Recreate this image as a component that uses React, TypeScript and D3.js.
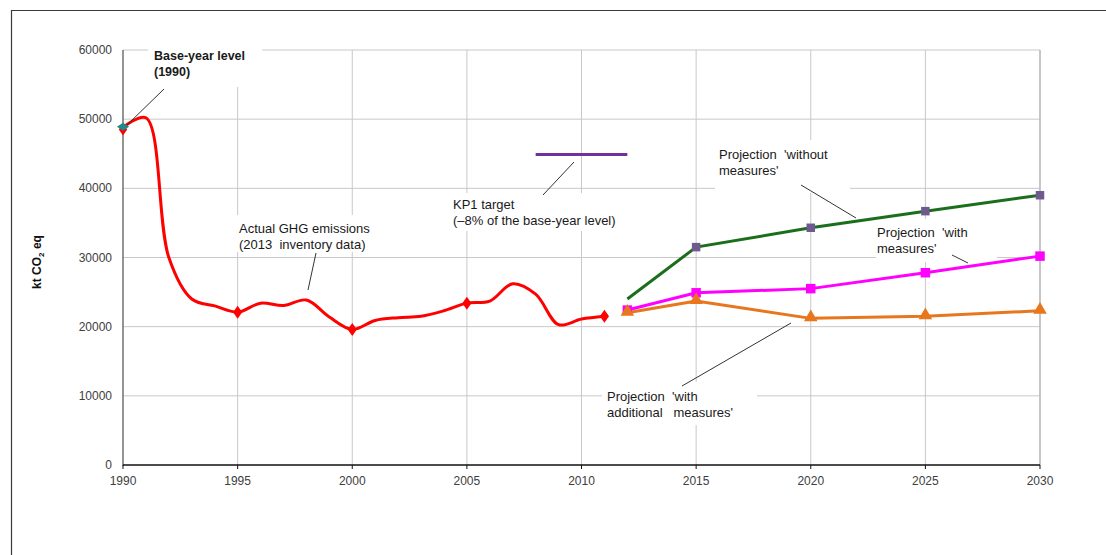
import React from "react";
import * as d3 from "d3";

// ---------- data ----------
const xTicks = [1990, 1995, 2000, 2005, 2010, 2015, 2020, 2025, 2030];
const yTicks = [0, 10000, 20000, 30000, 40000, 50000, 60000];

const actualYears = [1990, 1991, 1992, 1993, 1994, 1995, 1996, 1997, 1998, 1999, 2000, 2001, 2002, 2003, 2004, 2005, 2006, 2007, 2008, 2009, 2010, 2011];
const actualValues = [48800, 50200, 30000, 24000, 23000, 22100, 23400, 23050, 23850, 21400, 19600, 20900, 21300, 21500, 22300, 23400, 23700, 26200, 24700, 20300, 21100, 21500];
const actualMarkerYears = [1995, 2000, 2005, 2011];

const baseYears = [1990];
const baseValues = [48900];

const kpYears = [2008, 2012];
const kpValues = [44900, 44900];

const projYears = [2012, 2015, 2020, 2025, 2030];
const withoutMeasures = [24000, 31500, 34300, 36700, 39000];
const withMeasures = [22400, 24900, 25500, 27800, 30200];
const additionalMeasures = [22000, 23700, 21200, 21500, 22300];
const withoutMarkerYears = [2015, 2020, 2025, 2030];

const labelBase = ["Base-year level", "(1990)"];
const labelActual = ["Actual GHG emissions", "(2013  inventory data)"];
const labelKP = ["KP1 target", "(–8% of the base-year level)"];
const labelWithout = ["Projection  'without", "measures'"];
const labelWith = ["Projection  'with", "measures'"];
const labelAdd = ["Projection  'with", "additional   measures'"];

// ---------- layout ----------
const W = 1106;
const H = 555;
const X0 = 123, X1 = 1040, Y0 = 465, Y1 = 50;
const FONT = "'Liberation Sans', Arial, sans-serif";

const x = d3.scaleLinear().domain([1990, 2030]).range([X0, X1]);
const y = d3.scaleLinear().domain([0, 60000]).range([Y0, Y1]);

type Pt = [number, number];
const zip = (xs: number[], ys: number[]): Pt[] => xs.map((v, i) => [v, ys[i]]);

const smooth = d3.line<Pt>().x((d) => x(d[0])).y((d) => y(d[1])).curve(d3.curveCatmullRom.alpha(0.5));
const straight = d3.line<Pt>().x((d) => x(d[0])).y((d) => y(d[1]));

const sq = d3.symbol().type(d3.symbolSquare);
const tri = d3.symbol().type(d3.symbolTriangle);
const dia = d3.symbol().type(d3.symbolDiamond);

function Label({ lines, px, py, bold, lh = 16 }: { lines: string[]; px: number; py: number; bold?: boolean; lh?: number }) {
  return (
    <text x={px} y={py} fontFamily={FONT} fontSize={bold ? 12.5 : 13} fontWeight={bold ? "bold" : "normal"} fill="#1a1a1a" style={{ whiteSpace: "pre" }}>
      {lines.map((l, i) => (
        <tspan key={i} x={px} dy={i === 0 ? 0 : lh}>
          {l}
        </tspan>
      ))}
    </text>
  );
}

export default function App() {
  const valAt = (ys: number[], xs: number[], yr: number) => ys[xs.indexOf(yr)];
  return (
    <div style={{ position: "fixed", left: 0, top: 0, width: W, height: H, background: "#fff" }}>
      <svg width={W} height={H} style={{ display: "block" }}>
        <rect x={0} y={0} width={W} height={H} fill="#fff" />
        {/* outer frame */}
        <line x1={11} y1={10.5} x2={W} y2={10.5} stroke="#3a3a3a" strokeWidth={1.2} />
        <line x1={11.5} y1={10} x2={11.5} y2={H} stroke="#3a3a3a" strokeWidth={1.2} />

        {/* gridlines */}
        {yTicks.filter((t) => t > 0).map((t) => (
          <line key={"h" + t} x1={X0} x2={X1} y1={y(t)} y2={y(t)} stroke="#c8c8c8" strokeWidth={1} />
        ))}
        {xTicks.filter((t) => t > 1990).map((t) => (
          <line key={"v" + t} x1={x(t)} x2={x(t)} y1={Y1} y2={Y0} stroke={t === 2030 ? "#b8b8b8" : "#c8c8c8"} strokeWidth={t === 2030 ? 1.6 : 1} />
        ))}

        {/* label backgrounds (hide gridlines) */}
        <rect x={148} y={44} width={114} height={43} fill="#fff" />
        <rect x={236} y={215} width={134} height={37} fill="#fff" />
        <rect x={450} y={193} width={210} height={38} fill="#fff" />
        <rect x={715} y={140} width={135} height={53} fill="#fff" />
        <rect x={876} y={219} width={121} height={43} fill="#fff" />
        <rect x={602} y={382} width={155} height={43} fill="#fff" />

        {/* axes */}
        <line x1={X0} x2={X0} y1={Y1} y2={Y0 + 1} stroke="#707070" strokeWidth={1.5} />
        <line x1={X0} x2={X1} y1={Y0} y2={Y0} stroke="#111" strokeWidth={1.5} />
        {xTicks.map((t) => (
          <line key={"t" + t} x1={x(t)} x2={x(t)} y1={Y0} y2={Y0 + 4} stroke="#111" strokeWidth={1} />
        ))}
        {yTicks.map((t) => (
          <text key={"yl" + t} x={X0 - 11} y={y(t) + 4} textAnchor="end" fontFamily={FONT} fontSize={12} fill="#404040">
            {t}
          </text>
        ))}
        {xTicks.map((t) => (
          <text key={"xl" + t} x={x(t)} y={Y0 + 20} textAnchor="middle" fontFamily={FONT} fontSize={12} fill="#404040">
            {t}
          </text>
        ))}
        <text transform="translate(41,262) rotate(-90)" textAnchor="middle" fontFamily={FONT} fontSize={12} fontWeight="bold" fill="#111">
          kt CO<tspan fontSize={8} dy={3}>2</tspan>
          <tspan dy={-3}> eq</tspan>
        </text>

        {/* KP1 target */}
        <path d={straight(zip(kpYears, kpValues)) || ""} fill="none" stroke="#7030A0" strokeWidth={3} />

        {/* actual emissions */}
        <path d={smooth(zip(actualYears, actualValues)) || ""} fill="none" stroke="#FF0000" strokeWidth={3} strokeLinejoin="round" />
        {actualMarkerYears.map((yr) => (
          <path key={"am" + yr} d={dia.size(60)() || ""} transform={`translate(${x(yr)},${y(valAt(actualValues, actualYears, yr))}) scale(1.1,0.9)`} fill="#FF0000" />
        ))}
        <path d={dia.size(50)() || ""} transform={`translate(${x(1990)},${y(actualValues[0]) + 2}) scale(1.1,0.9)`} fill="#FF0000" />
        {baseYears.map((yr, i) => (
          <path key={"b" + yr} d={dia.size(50)() || ""} transform={`translate(${x(yr)},${y(baseValues[i])}) scale(1.6,0.6)`} fill="#1F8A8A" />
        ))}

        {/* projections */}
        <path d={straight(zip(projYears, withoutMeasures)) || ""} fill="none" stroke="#1B6E1B" strokeWidth={3} />
        <path d={straight(zip(projYears, withMeasures)) || ""} fill="none" stroke="#FF00FF" strokeWidth={3} />
        <path d={straight(zip(projYears, additionalMeasures)) || ""} fill="none" stroke="#E8761C" strokeWidth={3} />
        {withoutMarkerYears.map((yr) => (
          <path key={"wo" + yr} d={sq.size(72)() || ""} transform={`translate(${x(yr)},${y(valAt(withoutMeasures, projYears, yr))})`} fill="#6E5A8E" />
        ))}
        {projYears.map((yr, i) => (
          <path key={"wm" + yr} d={sq.size(90)() || ""} transform={`translate(${x(yr)},${y(withMeasures[i])})`} fill="#FF00FF" />
        ))}
        {projYears.map((yr, i) => (
          <path key={"wa" + yr} d={tri.size(80)() || ""} transform={`translate(${x(yr)},${y(additionalMeasures[i]) - 1})`} fill="#E8761C" />
        ))}

        {/* leader lines */}
        <g stroke="#333" strokeWidth={1}>
          <line x1={127} y1={125} x2={164} y2={89} />
          <line x1={316} y1={253} x2={308} y2={290} />
          <line x1={574} y1={162} x2={543} y2={195} />
          <line x1={801} y1={185} x2={856} y2={218} />
          <line x1={952} y1={255} x2={968} y2={263} />
          <line x1={791} y1={323} x2={682} y2={386} />
        </g>

        {/* annotation text */}
        <Label lines={labelBase} px={154} py={60} bold />
        <Label lines={labelActual} px={239} py={233} />
        <Label lines={labelKP} px={453} py={209} />
        <Label lines={labelWithout} px={719} py={159} />
        <Label lines={labelWith} px={877} py={237} />
        <Label lines={labelAdd} px={607} py={401} />
      </svg>
    </div>
  );
}
